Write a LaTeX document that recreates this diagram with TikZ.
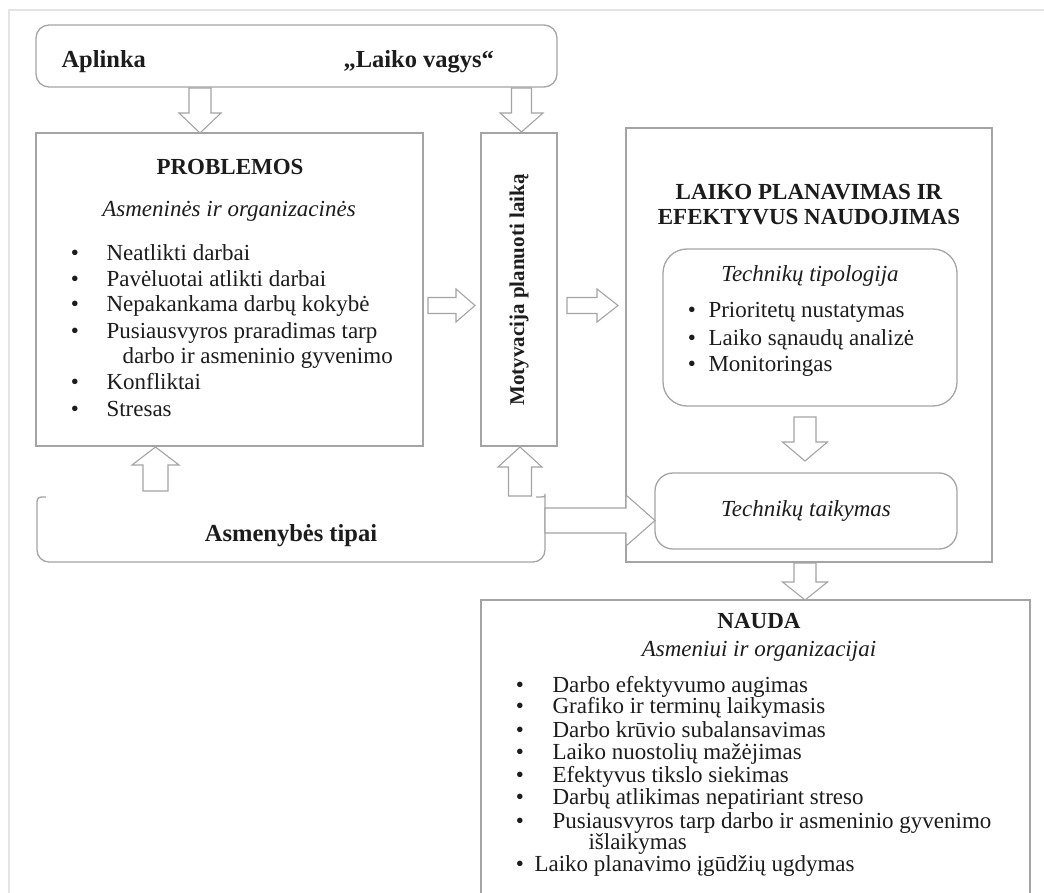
\documentclass[tikz,border=0pt]{standalone}
\usepackage{fontspec}
\setmainfont{Liberation Serif}
\definecolor{linecol}{HTML}{A4A4A4}
\definecolor{txtcol}{HTML}{1C1C1C}
\definecolor{framecol}{HTML}{E4E4E4}
\newcommand{\fsz}[1]{\fontsize{#1}{#1}\selectfont}
% vertical block arrow: cx, tail y, head-base y, tip y, shaft half, head half
\newcommand{\varrow}[6]{\draw[blockarrow] (#1-#5,#2) -- (#1-#5,#3) -- (#1-#6,#3) -- (#1,#4) -- (#1+#6,#3) -- (#1+#5,#3) -- (#1+#5,#2) -- cycle;}
% horizontal block arrow: cy, tail x, head-base x, tip x, shaft half, head half
\newcommand{\harrow}[6]{\draw[blockarrow] (#2,#1-#5) -- (#3,#1-#5) -- (#3,#1-#6) -- (#4,#1) -- (#3,#1+#6) -- (#3,#1+#5) -- (#2,#1+#5) -- cycle;}
\begin{document}
\begin{tikzpicture}[x=1pt,y=-1pt,
  every node/.style={text=txtcol},
  boxline/.style={draw=linecol, line width=1.3pt},
  panel/.style={boxline, inner sep=0pt, outer sep=0pt},
  ghost/.style={inner sep=0pt, outer sep=0pt},
  blockarrow/.style={draw=linecol, fill=white, line width=1.1pt, line join=miter},
  body/.style={font=\fsz{23}},
  bodyb/.style={font=\bfseries\fsz{23}},
  bodyi/.style={font=\itshape\fsz{23}},
  bul/.style={anchor=base, font=\fsz{23}},
  item/.style={anchor=base west, font=\fsz{23}}]
\useasboundingbox (0,0) rectangle (1044,893);
% faint outer frame
\draw[framecol, line width=1.5pt] (9,893) -- (9,10) -- (1044,10);

% ---------- boxes ----------
\node[panel, rounded corners=13pt, minimum width=521pt, minimum height=62pt] (env) at (296.5,56) {};
\node[panel, minimum width=387pt, minimum height=313pt] (prob) at (229.5,289.5) {};
\node[panel, minimum width=76pt, minimum height=313pt] (motiv) at (519,289.5) {};
\node[panel, minimum width=366pt, minimum height=434pt] (laiko) at (809,345) {};
\node[panel, rounded corners=24pt, minimum width=294pt, minimum height=157pt] (tipol) at (810,327.5) {};
\node[panel, rounded corners=18pt, minimum width=302pt, minimum height=76pt] (taik) at (806,511) {};
\node[ghost, minimum width=508pt, minimum height=65pt] (asm) at (291,529.5) {};
\node[ghost, minimum width=549pt, minimum height=293pt] (nauda) at (755.5,746.5) {};

% Asmenybes tipai: open-topped rounded box
\draw[boxline] (46,497) .. controls (37,497) .. (37,506) [rounded corners=12pt] -- (asm.south west) -- (asm.south east) -- (545,506) [sharp corners] .. controls (545,497) .. (536,497);
% NAUDA: box running off the bottom edge
\draw[boxline] (nauda.south west) |- (nauda.north east) -- (nauda.south east);

% ---------- block arrows ----------
\varrow{200}{88}{113}{133}{11}{21}
\varrow{521.5}{88}{113}{132}{10}{21.5}
\harrow{305.5}{428}{456}{475}{8}{16.5}
\harrow{305.5}{567}{597}{618}{8}{16.5}
\varrow{805}{417}{442}{461}{11}{22.5}
\varrow{155.5}{491}{465}{447}{12.5}{23.5}
\varrow{520}{496}{467}{447}{11.5}{22}
\harrow{520.5}{545}{626}{655}{12.5}{25.5}
\varrow{805}{563}{582}{600}{11}{22.5}

% ---------- texts ----------
\node[anchor=base west, font=\bfseries\fsz{24.5}] (envA) at (58,68) {Aplinka};
\node[anchor=base west, font=\bfseries\fsz{24.5}] (envB) at (340,68) {„Laiko vagys“};

\node[anchor=base, bodyb] (probT) at (230,175) {PROBLEMOS};
\node[anchor=base, bodyi] (probS) at (229,217) {Asmeninės ir organizacinės};
\foreach \yy/\tx [count=\i] in {261/Neatlikti darbai, 287/Pavėluotai atlikti darbai, 312/Nepakankama darbų kokybė, 338/Pusiausvyros praradimas tarp, 389/Konfliktai, 416/Stresas}{
  \node[bul] (pbb\i) at (75,\yy) {•};
  \node[item] (pbt\i) at (103,\yy) {\tx};
}
\node[item] (pbc) at (119,363) {darbo ir asmeninio gyvenimo};

\node[rotate=90, font=\bfseries\fsz{21}] (motivT) at (519,290) {Motyvacija planuoti laiką};

\node[anchor=base, bodyb] (laT1) at (809,200) {LAIKO PLANAVIMAS IR};
\node[anchor=base, bodyb] (laT2) at (809,225) {EFEKTYVUS NAUDOJIMAS};

\node[anchor=base, bodyi] (tipT) at (810,282) {Technikų tipologija};
\foreach \yy/\tx [count=\i] in {318/Prioritetų nustatymas, 345/Laiko sąnaudų analizė, 371/Monitoringas}{
  \node[bul] (tpb\i) at (692,\yy) {•};
  \node[item] (tpt\i) at (705,\yy) {\tx};
}

\node[anchor=base, bodyi] (taikT) at (806,516) {Technikų taikymas};

\node[anchor=base, font=\bfseries\fsz{24.5}] (asmT) at (291,541) {Asmenybės tipai};

\node[anchor=base, bodyb] (naT) at (759,628) {NAUDA};
\node[anchor=base, bodyi] (naS) at (759,656) {Asmeniui ir organizacijai};
\foreach \yy/\tx [count=\i] in {692/Darbo efektyvumo augimas, 713/Grafiko ir terminų laikymasis, 737/Darbo krūvio subalansavimas, 759/Laiko nuostolių mažėjimas, 782/Efektyvus tikslo siekimas, 804/Darbų atlikimas nepatiriant streso, 828/Pusiausvyros tarp darbo ir asmeninio gyvenimo}{
  \node[bul] (nab\i) at (520,\yy) {•};
  \node[item] (nat\i) at (549,\yy) {\tx};
}
\node[item] (nac) at (585,849) {išlaikymas};
\node[bul] (nab8) at (520,871) {•};
\node[item] (nat8) at (531,871) {Laiko planavimo įgūdžių ugdymas};
\end{tikzpicture}
\end{document}
